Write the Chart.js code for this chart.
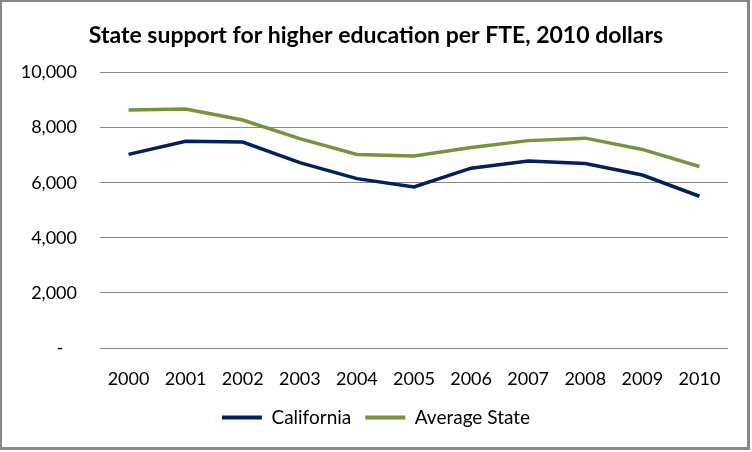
<!DOCTYPE html>
<html>
<head>
<meta charset="utf-8">
<script src="https://cdn.jsdelivr.net/npm/chart.js@4"></script>
<style>
  body { margin: 0; background: #fff; }
  canvas { display: block; }
</style>
</head>
<body>
<canvas id="myChart" width="752" height="452"></canvas>
<script>
var years = ['2000','2001','2002','2003','2004','2005','2006','2007','2008','2009','2010'];
var california = [7030, 7510, 7480, 6730, 6150, 5850, 6530, 6790, 6700, 6280, 5510];
var averageState = [8640, 8680, 8280, 7600, 7030, 6970, 7280, 7530, 7620, 7210, 6590];
var yTicks = [0, 2000, 4000, 6000, 8000, 10000];

var FONT = 'Lato, "Open Sans", sans-serif';

// grey frame round the whole picture, like the excel chart area
var framePlugin = {
  id: 'frame',
  afterDraw: function(chart) {
    var ctx = chart.ctx;
    ctx.save();
    ctx.strokeStyle = '#868686';
    ctx.lineWidth = 3;
    ctx.strokeRect(0.5, 0.5, 748, 448);
    ctx.restore();
  }
};

function createChart() {
  var ctx = document.getElementById('myChart').getContext('2d');
  new Chart(ctx, {
    type: 'line',
    data: {
      labels: years,
      datasets: [
        {
          label: 'California',
          data: california,
          borderColor: '#002060',
          backgroundColor: '#002060',
          borderWidth: 3.5,
          pointRadius: 0,
          tension: 0
        },
        {
          label: 'Average State',
          data: averageState,
          borderColor: '#77933C',
          backgroundColor: '#77933C',
          borderWidth: 3.5,
          pointRadius: 0,
          tension: 0
        }
      ]
    },
    options: {
      responsive: false,
      animation: false,
      layout: { padding: { left: 12, right: 12, top: 0, bottom: 15 } },
      plugins: {
        title: {
          display: true,
          text: 'State support for higher education per FTE, 2010 dollars',
          color: '#000',
          font: { family: FONT, size: 23, weight: 'bold' },
          padding: { top: 22, bottom: 23 }
        },
        legend: {
          position: 'bottom',
          labels: {
            color: '#000',
            font: { family: FONT, size: 19 },
            boxWidth: 40,
            boxHeight: 4,
            padding: 14,
            generateLabels: function(chart) {
              var items = Chart.defaults.plugins.legend.labels.generateLabels(chart);
              items.forEach(function(it) { it.lineWidth = 0; });
              return items;
            }
          }
        },
        tooltip: { enabled: false }
      },
      scales: {
        x: {
          offset: true,
          grid: { display: false },
          border: { display: false },
          afterFit: function(scale) { scale.height = 46; },
          ticks: {
            color: '#000',
            font: { family: FONT, size: 18 },
            padding: 12,
            maxRotation: 0
          }
        },
        y: {
          min: 0,
          max: 10000,
          afterBuildTicks: function(scale) {
            scale.ticks = yTicks.map(function(v) { return { value: v }; });
          },
          afterFit: function(scale) { scale.width = 88; },
          grid: { color: '#868686', lineWidth: 1, drawTicks: false },
          border: { display: false },
          ticks: {
            color: '#000',
            font: { family: FONT, size: 18 },
            padding: 23,
            callback: function(v) {
              return v === 0 ? '-   ' : v.toLocaleString('en-US');
            }
          }
        },
        // empty right-hand strip so the plot ends where excel's does
        spacer: {
          type: 'linear',
          position: 'right',
          grid: { display: false },
          border: { display: false },
          ticks: { display: false },
          afterFit: function(scale) { scale.width = 12; }
        }
      }
    },
    plugins: [framePlugin]
  });
}

createChart();
</script>
</body>
</html>
